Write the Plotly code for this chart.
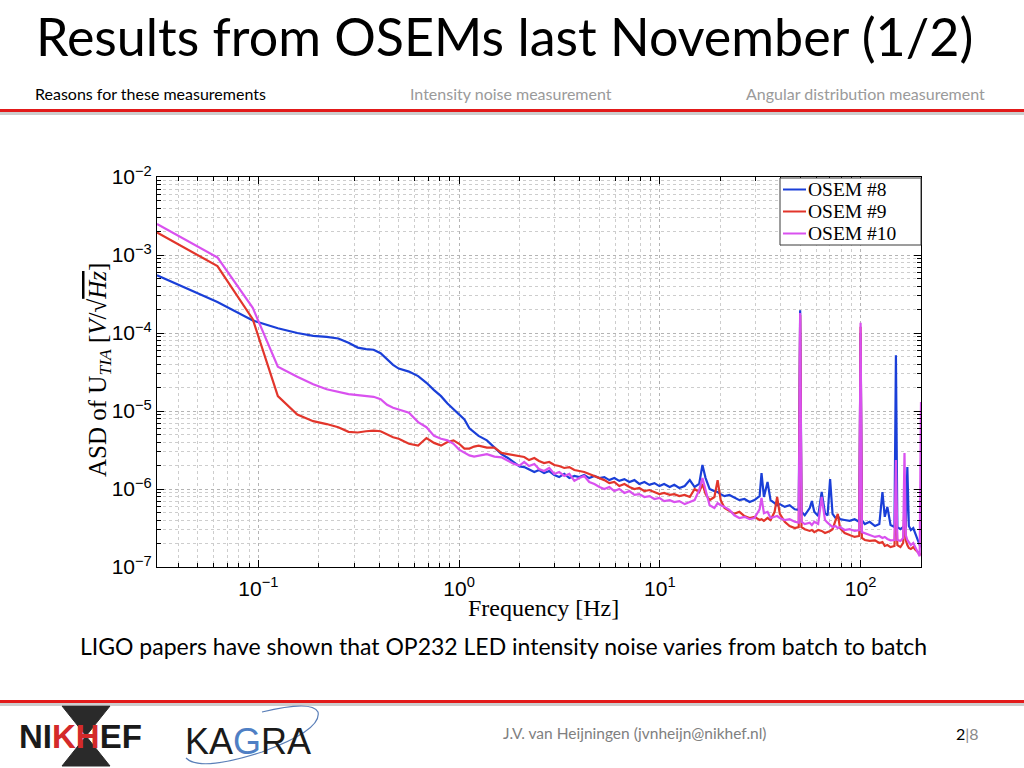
import plotly.graph_objects as go

# ---------------- data ----------------
freq_hz = [
    0.03125, 0.0625, 0.09375, 0.125, 0.15625, 0.1875, 0.21875, 0.25, 0.28125, 0.3125,
    0.34375, 0.375, 0.40625, 0.4375, 0.46875, 0.5, 0.5625, 0.625, 0.6875, 0.75,
    0.8125, 0.875, 0.9375, 1.0, 1.0625, 1.125, 1.1875, 1.25, 1.375, 1.5,
    1.625, 1.75, 1.875, 2.0,
    2.11, 2.23, 2.37, 2.5, 2.65, 2.81, 2.98, 3.15, 3.34, 3.54,
    3.75, 3.97, 4.2, 4.45, 4.72, 5.0, 5.29, 5.6, 5.93, 6.28,
    6.66, 7.05, 7.47, 7.9, 8.38, 8.87, 9.4, 9.95, 10.5, 11.2,
    11.8, 12.5, 13.3, 14.1, 14.9, 15.7, 16.3, 16.9, 17.7, 18.7,
    19.4, 20.1, 21.0, 22.2, 23.5, 24.9, 26.4, 28.0, 29.6, 31.4,
    32.1, 33.0, 34.4, 35.6, 37.3, 38.4, 39.6, 41.9, 44.3, 47.0,
    49.2, 50.0, 50.8, 52.7, 55.8, 57.2, 58.8, 61.5, 64.0, 66.5,
    68.5, 70.5, 72.5, 75.0, 77.0, 79.0, 83.3, 88.2, 93.4, 98.5,
    100.0, 101.5, 105.0, 111.0, 118.0, 124.0, 128.5, 132.0, 136.0, 141.0,
    147.5, 150.0, 152.5, 158.0, 163.0, 165.5, 168.0, 171.0, 174.0, 178.0,
    183.0, 188.0, 193.0, 197.0, 200.0,
]

osem8 = [
    5.5e-4, 2.5e-4, 1.45e-4, 1.15e-4, 1.0e-4, 9.2e-5, 8.9e-5, 8.5e-5, 7.5e-5, 6.5e-5,
    6.2e-5, 6.1e-5, 5.5e-5, 4.6e-5, 3.9e-5, 3.5e-5, 3.2e-5, 2.8e-5, 2.3e-5, 1.85e-5,
    1.55e-5, 1.25e-5, 1.05e-5, 9.0e-6, 7.8e-6, 6.0e-6, 5.3e-6, 4.8e-6, 4.2e-6, 3.4e-6,
    2.8e-6, 2.5e-6, 2.2e-6, 1.95e-6,
    1.91e-6, 1.80e-6, 1.65e-6, 1.75e-6, 1.60e-6, 1.70e-6, 1.51e-6, 1.42e-6, 1.56e-6, 1.38e-6,
    1.47e-6, 1.42e-6, 1.51e-6, 1.38e-6, 1.47e-6, 1.38e-6, 1.42e-6, 1.30e-6, 1.38e-6, 1.27e-6,
    1.34e-6, 1.23e-6, 1.30e-6, 1.16e-6, 1.23e-6, 1.13e-6, 1.19e-6, 1.09e-6, 1.16e-6, 1.06e-6,
    1.13e-6, 1.03e-6, 1.09e-6, 1.30e-6, 1.06e-6, 1.16e-6, 2.03e-6, 1.38e-6, 1.0e-6, 9.4e-7,
    9.15e-7, 8.6e-7, 8.1e-7, 8.4e-7, 7.7e-7, 7.2e-7, 7.45e-7, 6.8e-7, 7.2e-7, 8.1e-7,
    1.60e-6, 7.9e-7, 1.23e-6, 7.2e-7, 6.6e-7, 6.2e-7, 6.4e-7, 5.9e-7, 6.2e-7, 5.5e-7,
    5.4e-7, 1.95e-4, 5.1e-7, 4.6e-7, 5.7e-7, 7.0e-7, 5.1e-7, 4.5e-7, 9.15e-7, 4.9e-7,
    4.6e-7, 1.34e-6, 4.8e-7, 4.25e-7, 4.5e-7, 4.1e-7, 4.0e-7, 3.9e-7, 4.1e-7, 3.8e-7,
    1.0e-4, 4.0e-7, 3.55e-7, 3.8e-7, 3.35e-7, 3.55e-7, 9.15e-7, 4.4e-7, 5.9e-7, 3.45e-7,
    3.25e-7, 5.2e-5, 3.25e-7, 3.05e-7, 3.25e-7, 3.45e-7, 3.15e-7, 1.91e-6, 3.35e-7, 2.98e-7,
    3.15e-7, 2.57e-7, 2.22e-7, 1.91e-7, 1.8e-7,
]

osem9 = [
    1.95e-3, 7.2e-4, 1.5e-4, 1.55e-5, 9.0e-6, 7.4e-6, 6.8e-6, 6.2e-6, 5.4e-6, 5.3e-6,
    5.5e-6, 5.6e-6, 5.5e-6, 5.0e-6, 4.6e-6, 4.4e-6, 3.8e-6, 3.6e-6, 4.5e-6, 3.9e-6,
    3.6e-6, 4.0e-6, 4.2e-6, 3.8e-6, 3.3e-6, 3.3e-6, 3.5e-6, 3.6e-6, 3.4e-6, 3.4e-6,
    2.9e-6, 2.8e-6, 2.7e-6, 2.6e-6,
    2.57e-6, 2.35e-6, 2.50e-6, 2.29e-6, 2.15e-6, 2.22e-6, 2.03e-6, 1.97e-6, 1.86e-6, 1.91e-6,
    1.75e-6, 1.70e-6, 1.65e-6, 1.56e-6, 1.47e-6, 1.38e-6, 1.30e-6, 1.19e-6, 1.23e-6, 1.09e-6,
    1.16e-6, 1.06e-6, 1.0e-6, 1.03e-6, 9.4e-7, 9.7e-7, 9.15e-7, 8.6e-7, 8.9e-7, 8.4e-7,
    8.6e-7, 8.1e-7, 8.4e-7, 7.9e-7, 1.0e-6, 9.15e-7, 1.16e-6, 8.6e-7, 7.2e-7, 7.9e-7,
    1.30e-6, 7.2e-7, 5.7e-7, 5.2e-7, 4.8e-7, 5.1e-7, 4.5e-7, 4.25e-7, 4.4e-7, 4.0e-7,
    4.1e-7, 3.9e-7, 4.25e-7, 4.0e-7, 5.1e-7, 7.9e-7, 4.8e-7, 3.8e-7, 3.35e-7, 3.15e-7,
    3.25e-7, 1.7e-4, 3.25e-7, 3.05e-7, 2.9e-7, 2.98e-7, 2.8e-7, 2.98e-7, 2.9e-7, 2.73e-7,
    2.8e-7, 2.9e-7, 3.05e-7, 4.0e-7, 4.8e-7, 3.15e-7, 2.73e-7, 2.57e-7, 2.43e-7, 2.5e-7,
    1.2e-4, 2.36e-7, 2.22e-7, 2.16e-7, 2.2e-7, 2.03e-7, 2.09e-7, 1.86e-7, 1.91e-7, 1.8e-7,
    1.86e-7, 7.2e-7, 1.91e-7, 1.8e-7, 2.03e-7, 6.6e-7, 2.22e-7, 1.91e-7, 1.75e-7, 1.70e-7,
    1.8e-7, 1.65e-7, 1.56e-7, 1.51e-7, 1.43e-7,
]

osem10 = [
    2.5e-3, 9.3e-4, 2.1e-4, 3.7e-5, 2.75e-5, 2.2e-5, 1.9e-5, 1.75e-5, 1.65e-5, 1.6e-5,
    1.55e-5, 1.52e-5, 1.42e-5, 1.2e-5, 1.1e-5, 1.05e-5, 9.5e-6, 7.2e-6, 6.2e-6, 4.8e-6,
    4.4e-6, 4.2e-6, 3.8e-6, 3.2e-6, 2.9e-6, 2.7e-6, 2.6e-6, 2.65e-6, 2.8e-6, 2.6e-6,
    2.55e-6, 2.3e-6, 2.1e-6, 2.0e-6,
    2.22e-6, 1.97e-6, 2.09e-6, 1.80e-6, 1.70e-6, 1.86e-6, 1.56e-6, 1.65e-6, 1.47e-6, 1.56e-6,
    1.27e-6, 1.38e-6, 1.47e-6, 1.23e-6, 1.16e-6, 1.06e-6, 1.0e-6, 1.06e-6, 9.4e-7, 1.0e-6,
    8.9e-7, 9.4e-7, 8.4e-7, 8.6e-7, 7.9e-7, 8.1e-7, 7.45e-7, 7.7e-7, 7.0e-7, 7.2e-7,
    6.8e-7, 7.0e-7, 6.4e-7, 6.8e-7, 7.2e-7, 9.7e-7, 1.38e-6, 9.7e-7, 6.2e-7, 5.7e-7,
    6.6e-7, 6.2e-7, 5.9e-7, 5.4e-7, 4.6e-7, 4.25e-7, 4.4e-7, 4.1e-7, 4.25e-7, 5.5e-7,
    7.7e-7, 4.9e-7, 5.1e-7, 4.25e-7, 4.4e-7, 4.5e-7, 4.25e-7, 4.0e-7, 4.1e-7, 3.8e-7,
    3.7e-7, 1.8e-4, 3.8e-7, 3.55e-7, 3.7e-7, 3.45e-7, 3.8e-7, 3.55e-7, 7.9e-7, 4.0e-7,
    3.7e-7, 3.45e-7, 3.25e-7, 3.35e-7, 3.15e-7, 3.25e-7, 2.98e-7, 3.05e-7, 2.9e-7, 2.98e-7,
    1.35e-4, 2.8e-7, 2.73e-7, 2.57e-7, 2.43e-7, 2.5e-7, 2.36e-7, 2.43e-7, 2.29e-7, 2.2e-7,
    2.22e-7, 2.35e-6, 2.22e-7, 2.16e-7, 2.36e-7, 2.9e-6, 2.57e-7, 2.22e-7, 2.09e-7, 1.91e-7,
    2.03e-7, 1.75e-7, 1.56e-7, 1.37e-7, 1.3e-5,
]

series_names = ["OSEM #8", "OSEM #9", "OSEM #10"]
series_colors = ["#1a3fd8", "#e2352b", "#d951ef"]

x_tick_vals = [0.1, 1, 10, 100]
x_tick_text = ["10<sup>−1</sup>", "10<sup>0</sup>", "10<sup>1</sup>", "10<sup>2</sup>"]
y_tick_vals = [1e-7, 1e-6, 1e-5, 1e-4, 1e-3, 1e-2]
y_tick_text = ["10<sup>−7</sup>", "10<sup>−6</sup>", "10<sup>−5</sup>",
               "10<sup>−4</sup>", "10<sup>−3</sup>", "10<sup>−2</sup>"]

minor_x = [m * 10.0 ** e for e in range(-2, 3) for m in range(2, 10)]
minor_y = [m * 10.0 ** e for e in range(-7, -2) for m in range(2, 10)]

W, H = 1024, 768
def px(x):
    return x / W
def py(y):
    return 1 - y / H

fig = go.Figure()
for name, vals, color in zip(series_names, [osem8, osem9, osem10], series_colors):
    fig.add_trace(go.Scatter(x=freq_hz, y=vals, mode="lines", name=name,
                             line=dict(color=color, width=2.2), showlegend=False))

axis_common = dict(
    type="log", showline=True, linecolor="black", linewidth=1, mirror="allticks",
    ticks="inside", ticklen=7, tickcolor="black", tickwidth=1,
    showgrid=True, gridcolor="#b4b4b4", griddash="dot", gridwidth=1,
    zeroline=False, tickmode="array", automargin=False,
    tickfont=dict(family="Liberation Sans, Arial, sans-serif", size=21, color="black"),
)

fig.update_xaxes(
    **axis_common,
    domain=[px(157), px(921)],
    range=[-1.50515, 2.30103],
    tickvals=x_tick_vals, ticktext=x_tick_text, ticklabelstandoff=3,
    minor=dict(tickmode="array", tickvals=minor_x, ticks="inside", ticklen=4,
               tickcolor="black", showgrid=True, gridcolor="#cdcdcd",
               griddash="dot", gridwidth=1),
)
fig.update_yaxes(
    **axis_common,
    domain=[py(567), py(177)],
    range=[-7, -2],
    tickvals=y_tick_vals, ticktext=y_tick_text,
    minor=dict(tickmode="array", tickvals=minor_y, ticks="inside", ticklen=4,
               tickcolor="black", showgrid=True, gridcolor="#cdcdcd",
               griddash="dot", gridwidth=1),
)

sans = "Lato, Open Sans, sans-serif"
serif = "Liberation Serif, Times New Roman, serif"

annotations = [
    dict(text="Results from OSEMs last November (1/2)", x=px(34), y=py(36),
         xanchor="left", yanchor="middle", font=dict(family=sans, size=52, color="black")),
    dict(text="Reasons for these measurements", x=px(33), y=py(93),
         xanchor="left", yanchor="middle", font=dict(family=sans, size=16, color="black")),
    dict(text="Intensity noise measurement", x=px(511), y=py(93),
         xanchor="center", yanchor="middle", font=dict(family=sans, size=16, color="#9a9a9a")),
    dict(text="Angular distribution measurement", x=px(987), y=py(93),
         xanchor="right", yanchor="middle", font=dict(family=sans, size=16, color="#9a9a9a")),
    dict(text="LIGO papers have shown that OP232 LED intensity noise varies from batch to batch",
         x=px(503), y=py(646), xanchor="center", yanchor="middle",
         font=dict(family=sans, size=23, color="black")),
    dict(text="J.V. van Heijningen (jvnheijn@nikhef.nl)", x=px(635), y=py(733),
         xanchor="center", yanchor="middle", font=dict(family=sans, size=15.5, color="#808080")),
    dict(text="2<span style='color:#8a8a8a'>|8</span>", x=px(967), y=py(733),
         xanchor="center", yanchor="middle", font=dict(family=sans, size=16, color="black")),
    dict(text="Frequency [Hz]", x=px(543), y=py(608), xanchor="center", yanchor="middle",
         font=dict(family=serif, size=24, color="black")),
    dict(text="ASD of U<sub><i>TIA</i></sub> [<i>V</i>/√<span style='text-decoration:overline'><i>Hz</i></span>]",
         x=px(100), y=py(370), xanchor="center", yanchor="middle", textangle=-90,
         font=dict(family=serif, size=25, color="black")),
    # logos (text approximations)
    dict(text="NI<span style='color:#d42a2a'>KH</span>EF", x=px(80), y=py(736),
         xanchor="center", yanchor="middle",
         font=dict(family="Liberation Sans, Arial", size=33, color="#1a1a1a", weight="bold")),
    dict(text="KA<span style='color:#4f7fc4'>G</span>RA", x=px(248), y=py(741),
         xanchor="center", yanchor="middle",
         font=dict(family="Liberation Sans, Arial", size=36, color="#1a1a1a")),
]

# legend (drawn to match the MATLAB legend box)
legend_rows_y = [189.5, 211.5, 233.5]
for name, color, ly in zip(series_names, series_colors, legend_rows_y):
    annotations.append(dict(text=name, x=px(807), y=py(ly), xanchor="left", yanchor="middle",
                            borderpad=0, font=dict(family=serif, size=19.5, color="black")))

for a in annotations:
    a.update(xref="paper", yref="paper", showarrow=False)

shapes = [
    # header separator
    dict(type="rect", x0=0, x1=px(1024), y0=py(112), y1=py(109), fillcolor="#e21a1a", line_width=0),
    dict(type="rect", x0=0, x1=px(1024), y0=py(115), y1=py(112), fillcolor="#9c9c9c", line_width=0, opacity=0.5),
    # footer separator
    dict(type="rect", x0=0, x1=px(1024), y0=py(703), y1=py(700), fillcolor="#e21a1a", line_width=0),
    dict(type="rect", x0=0, x1=px(1024), y0=py(706), y1=py(703), fillcolor="#9c9c9c", line_width=0, opacity=0.5),
    # NIKHEF hourglass
    dict(type="path", path=f"M {px(62)} {py(706)} L {px(110)} {py(706)} L {px(86)} {py(736)} Z",
         fillcolor="#2a2a2a", line=dict(color="#2a2a2a", width=1), layer="below"),
    dict(type="path", path=f"M {px(62)} {py(766)} L {px(110)} {py(766)} L {px(86)} {py(736)} Z",
         fillcolor="#2a2a2a", line=dict(color="#2a2a2a", width=1), layer="below"),
    # KAGRA arc
    dict(type="path",
         path=f"M {px(186)} {py(758)} Q {px(200)} {py(772)} {px(262)} {py(752)} "
              f"Q {px(322)} {py(730)} {px(318)} {py(712)} Q {px(312)} {py(700)} {px(262)} {py(712)}",
         line=dict(color="#5a7fb8", width=1.2)),
    # legend box
    dict(type="rect", x0=px(780), x1=px(921), y0=py(245), y1=py(178),
         fillcolor="white", line=dict(color="#3a3a3a", width=1)),
]
for name, color, ly in zip(series_names, series_colors, legend_rows_y):
    shapes.append(dict(type="line", x0=px(783), x1=px(806), y0=py(ly), y1=py(ly),
                       line=dict(color=color, width=2)))
for s in shapes:
    s.setdefault("xref", "paper")
    s.setdefault("yref", "paper")

fig.update_layout(
    width=W, height=H, margin=dict(l=0, r=0, t=0, b=0, pad=0, autoexpand=False),
    paper_bgcolor="white", plot_bgcolor="white",
    showlegend=False,
    annotations=annotations, shapes=shapes,
)

fig.write_html("out.html", config={"displayModeBar": False},
               post_script="document.body.style.margin='0';")
